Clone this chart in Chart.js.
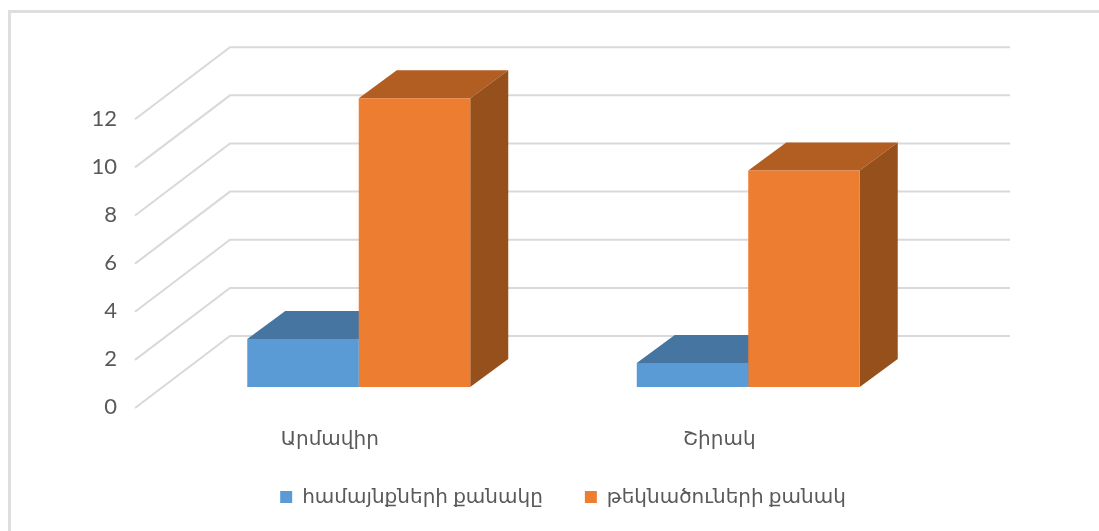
<!DOCTYPE html>
<html>
<head>
<meta charset="utf-8">
<script src="https://cdn.jsdelivr.net/npm/chart.js@4"></script>
<style>
    body { margin: 0; background: #fff; overflow: hidden; }
    #frame { position: absolute; left: 8px; top: 10px; right: 0; bottom: 0; border-left: 3px solid #dedede; border-top: 3px solid #dedede; pointer-events: none; }
</style>
</head>
<body>
<canvas id="chart" width="1099" height="531"></canvas>
<div id="frame"></div>
<script>
const categories = ["Արմավիր", "Շիրակ"];
const communities = [2, 1];
const settlements = [12, 9];
const seriesNames = ["համայնքների քանակը", "թեկնածուների քանակ"];
const tickLabels = [0, 2, 4, 6, 8, 10, 12];

const fontFamily = 'Lato, "DejaVu Sans", sans-serif';

// Fake 3D: the floor, walls and bar tops/sides are drawn around the library's own scales
const walls3d = {
    id: "walls3d",
    afterLayout(chart) {
        // the x axis clips its labels to its own box, leave room for descenders
        chart.scales.x.bottom += 20;
    },
    beforeDatasetsDraw(chart) {
        const { ctx, chartArea, scales } = chart;
        const floorLeft = chartArea.left - 29;
        const backLeft = chartArea.left + 66;
        const backRight = chartArea.right + 67;

        ctx.save();
        ctx.strokeStyle = "#d9d9d9";
        ctx.lineWidth = 2;
        tickLabels.forEach((tick) => {
            const y = scales.y.getPixelForValue(tick);
            ctx.beginPath();
            ctx.moveTo(floorLeft, y + 21);
            ctx.lineTo(backLeft, y - 51);
            ctx.lineTo(backRight, y - 51);
            ctx.stroke();
        });

        chart.data.datasets.forEach((dataset, i) => {
            chart.getDatasetMeta(i).data.forEach((bar) => {
                const left = bar.x - bar.width / 2;
                const right = bar.x + bar.width / 2;
                // top face
                ctx.fillStyle = dataset.topColor;
                ctx.beginPath();
                ctx.moveTo(left, bar.y);
                ctx.lineTo(left + 38, bar.y - 28);
                ctx.lineTo(right + 38, bar.y - 28);
                ctx.lineTo(right, bar.y);
                ctx.closePath();
                ctx.fill();
                // side face
                ctx.fillStyle = dataset.sideColor;
                ctx.beginPath();
                ctx.moveTo(right, bar.y);
                ctx.lineTo(right + 38, bar.y - 28);
                ctx.lineTo(right + 38, bar.base - 28);
                ctx.lineTo(right, bar.base);
                ctx.closePath();
                ctx.fill();
            });
        });
        ctx.restore();
    },
};

new Chart(document.getElementById("chart").getContext("2d"), {
    type: "bar",
    plugins: [walls3d],
    data: {
        labels: categories,
        datasets: [
            {
                label: seriesNames[0],
                data: communities,
                backgroundColor: "#5b9bd5",
                topColor: "#4675a1",
                sideColor: "#3a6188",
                yAxisID: "y",
            },
            {
                label: seriesNames[1],
                data: settlements,
                backgroundColor: "#ed7d31",
                topColor: "#b25e22",
                sideColor: "#96501b",
                yAxisID: "y",
            },
        ],
    },
    options: {
        responsive: false,
        animation: false,
        events: [],
        layout: { padding: { left: 27, top: 29, bottom: 14 } },
        datasets: { bar: { categoryPercentage: 0.5725, barPercentage: 1 } },
        scales: {
            x: {
                grid: { display: false },
                border: { display: false },
                ticks: {
                    color: "#595959",
                    padding: 11,
                    labelOffset: -29,
                    maxRotation: 0,
                    font: { family: fontFamily, size: 20 },
                },
                afterFit(scale) { scale.height = 37; },
            },
            // axis the bars use, its labels stay hidden
            y: {
                position: "right",
                min: -21 / 24.08,
                max: 335 / 24.08,
                grid: { display: false },
                border: { display: false },
                ticks: { display: false },
                afterFit(scale) { scale.width = 156; },
            },
            // axis that carries the numbers, sitting a little lower than the bars' floor
            yLabels: {
                position: "left",
                min: -1 / 24,
                max: 355 / 24,
                grid: { display: false },
                border: { display: false },
                ticks: {
                    color: "#595959",
                    padding: 39,
                    font: { family: fontFamily, size: 22 },
                },
                afterBuildTicks(scale) { scale.ticks = tickLabels.map((value) => ({ value })); },
                afterFit(scale) { scale.width = 137; },
            },
        },
        plugins: {
            title: { display: false },
            tooltip: { enabled: false },
            legend: {
                position: "bottom",
                labels: {
                    boxWidth: 12,
                    boxHeight: 12,
                    padding: 42,
                    color: "#595959",
                    font: { family: fontFamily, size: 20 },
                },
            },
        },
    },
});
</script>
</body>
</html>
